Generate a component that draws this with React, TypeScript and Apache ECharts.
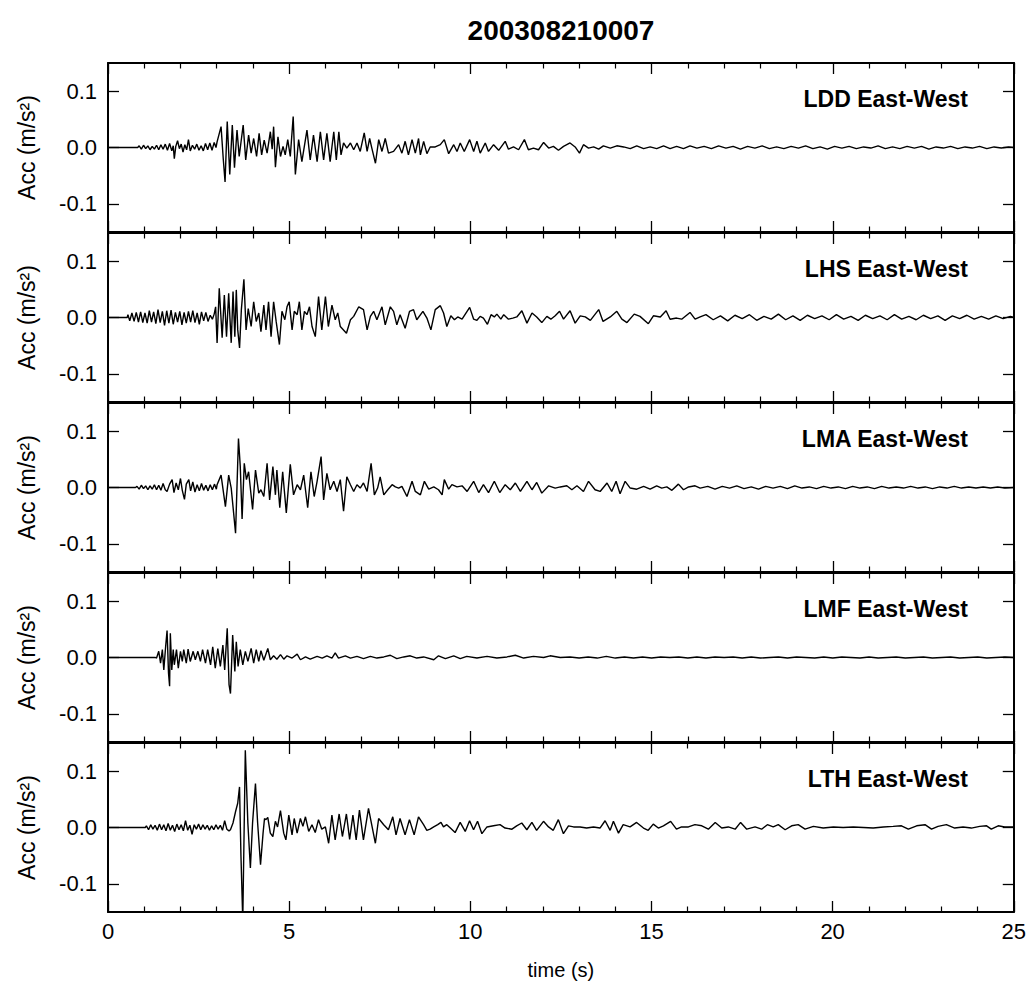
import React, { useEffect, useRef } from "react";
import * as echarts from "echarts";

// time (s), acceleration (10^-3 m/s^2)
const LDD: number[][] = [
  [0,0],[0.82,0],[0.86,3],[0.92,-3],[0.98,4],[1.04,-2],[1.10,3],[1.16,-4],[1.22,2],[1.28,-3],[1.34,4],[1.40,-4],[1.46,5],[1.52,-3],[1.58,6],[1.64,-5],[1.70,7],[1.76,-6],[1.80,3],[1.83,-20],[1.87,2],[1.92,12],[1.97,-2],[2.02,6],[2.07,-8],[2.12,5],[2.17,-4],[2.22,14],[2.27,-6],[2.33,4],[2.39,-3],[2.45,6],[2.51,-5],[2.57,3],[2.63,-6],[2.69,7],[2.75,-4],[2.81,8],[2.87,-5],[2.93,9],[2.98,0],
  [3.01,10],[3.12,37],[3.18,-20],[3.23,-61],[3.29,46],[3.36,-48],[3.43,40],[3.49,-36],[3.56,31],[3.62,-16],[3.73,40],[3.80,-22],[3.88,22],[3.95,-10],[4.02,16],[4.10,-16],[4.17,25],[4.24,-13],[4.31,13],[4.39,-10],[4.48,28],[4.53,-3],[4.57,37],[4.62,-35],[4.69,19],[4.76,-16],[4.83,2],[4.89,-13],[4.96,14],[5.03,-16],[5.11,55],[5.17,-48],[5.26,14],[5.35,-25],[5.49,31],[5.58,-22],[5.67,22],[5.77,-25],[5.86,28],[5.95,-22],[6.04,25],[6.13,-25],[6.23,28],[6.30,-22],[6.37,28],[6.43,-13],[6.50,8],[6.59,-1],[6.69,8],[6.78,-4],[6.87,8],[6.96,-7],[7.07,26],[7.15,-7],[7.22,16],[7.28,-1],[7.38,-28],[7.47,14],[7.56,-7],[7.65,16],[7.74,-10],[7.88,-7],[8.02,5],[8.11,-10],[8.20,11],[8.29,-13],[8.39,14],[8.48,-10],[8.57,16],
  [8.62,-13],[8.71,11],[8.80,-11],[8.89,1],[9.03,1],[9.17,5],[9.28,14],[9.40,-11],[9.54,5],[9.63,-7],[9.72,8],[9.83,-7],[9.98,14],[10.09,-7],[10.18,11],[10.27,-10],[10.41,8],[10.50,-7],[10.64,5],[10.78,-5],[10.96,11],[11.05,-3],[11.19,1],[11.33,-4],[11.49,14],[11.60,-4],[11.74,-1],[11.88,-4],[12.02,9],[12.16,-1],[12.29,2],[12.43,-5],[12.57,2],[12.75,8],[12.89,1],[13.01,-10],[13.12,5],[13.26,-1],[13.40,1],[13.54,-3],[13.67,3],[13.86,-1],[14.04,3],[14.23,1],[14.41,-2],[14.59,3],[14.78,-2],[14.96,1],[15.14,-2],[15.33,3],[15.51,-2],[15.69,2],[15.88,-2],[16.06,3],[16.25,-1],
  [16.45,2],[16.65,-2],[16.85,3],[17.05,-1],[17.25,2],[17.45,-3],[17.65,2],[17.85,-1],[18.05,3],[18.25,-2],[18.45,1],[18.65,-2],[18.85,2],[19.05,-1],[19.25,3],[19.45,-2],[19.65,1],[19.85,-3],[20.05,2],[20.25,-1],[20.45,2],[20.65,-2],[20.85,1],[21.05,-1],[21.25,3],[21.45,-2],[21.65,1],[21.85,-2],[22.05,2],[22.25,-1],[22.45,2],[22.65,-3],[22.85,1],[23.05,-1],[23.25,2],[23.45,-2],[23.65,1],[23.85,-1],[24.05,2],[24.25,-2],[24.45,1],[24.65,-1],[24.85,1],[25,0]
];

const LHS: number[][] = [
  [0,0],[0.53,0],[0.55,5],[0.60,-6],[0.66,8],[0.72,-7],[0.78,9],[0.84,-8],[0.90,10],[0.96,-9],[1.02,8],[1.08,-10],[1.14,12],[1.20,-8],[1.26,10],[1.32,-11],[1.38,14],[1.44,-9],[1.50,11],[1.56,-14],[1.62,12],[1.68,-10],[1.74,13],[1.80,-12],[1.86,9],[1.92,-8],[1.98,11],[2.04,-13],[2.10,9],[2.16,-10],[2.22,11],[2.28,-8],[2.34,12],[2.40,-9],[2.46,8],[2.52,-12],[2.58,10],[2.64,-6],[2.70,9],[2.76,-7],[2.82,4],[2.88,-3],[2.93,6],
  [2.97,19],[3.01,-45],[3.07,52],[3.15,-36],[3.21,40],[3.27,-34],[3.33,43],[3.40,-45],[3.45,46],[3.50,-34],[3.54,49],[3.58,-22],[3.63,-54],[3.68,14],[3.75,68],[3.81,-22],[3.87,16],[3.95,-16],[4.02,28],[4.09,-7],[4.16,8],[4.22,-25],[4.30,22],[4.36,-22],[4.43,28],[4.50,-34],[4.57,28],[4.64,-7],[4.73,-48],[4.80,11],[4.88,-4],[4.94,19],[5.00,28],[5.08,-22],[5.14,11],[5.22,5],[5.28,28],[5.35,-22],[5.42,11],[5.49,5],[5.56,19],[5.63,-16],[5.72,-34],[5.81,37],[5.90,-22],[6.00,37],[6.08,-16],[6.18,22],[6.27,-4],[6.34,8],[6.41,-16],[6.58,-28],[6.69,-4],[6.78,2],[6.92,19],[7.05,14],[7.15,-22],[7.24,2],[7.33,11],[7.42,-4],[7.56,19],[7.65,-13],[7.79,19],[7.88,11],[7.97,-13],[8.06,5],[8.20,-19],[8.32,11],[8.43,14],[8.52,-4],
  [8.69,11],[8.80,-1],[8.91,-22],[9.03,14],[9.17,21],[9.26,8],[9.35,-16],[9.46,3],[9.56,-4],[9.65,1],[9.77,-3],[9.98,18],[10.09,-3],[10.18,-5],[10.27,2],[10.36,-1],[10.47,-12],[10.57,5],[10.66,1],[10.73,6],[10.84,-3],[10.92,5],[11.05,-3],[11.17,-1],[11.28,1],[11.42,12],[11.56,-10],[11.70,8],[11.83,1],[11.97,-9],[12.11,2],[12.22,-3],[12.34,3],[12.46,11],[12.57,-3],[12.75,12],[12.89,-10],[13.03,3],[13.17,1],[13.31,-5],[13.54,14],[13.66,-7],[13.86,1],[14.04,11],[14.18,-3],[14.32,-9],[14.52,6],[14.68,2],[14.91,-11],[15.05,3],[15.24,1],[15.40,12],[15.51,-3],[15.69,-1],[15.83,-3],[16.06,9],[16.20,-3],[16.34,1],
  [16.5,5],[16.7,-4],[16.9,3],[17.1,-6],[17.3,4],[17.5,-2],[17.7,5],[17.9,-5],[18.1,2],[18.3,-3],[18.5,6],[18.7,-4],[18.9,3],[19.1,-5],[19.3,4],[19.5,-2],[19.7,3],[19.9,-4],[20.1,5],[20.3,-3],[20.5,2],[20.7,-5],[20.9,4],[21.1,-2],[21.3,3],[21.5,-4],[21.7,5],[21.9,-3],[22.1,2],[22.3,-4],[22.5,4],[22.7,-2],[22.9,3],[23.1,-5],[23.3,3],[23.5,-2],[23.7,4],[23.9,-3],[24.1,2],[24.3,-3],[24.5,3],[24.7,-2],[24.9,2],[25,0]
];

const LMA: number[][] = [
  [0,0],[0.76,0],[0.80,2],[0.86,-3],[0.92,4],[0.98,-2],[1.04,3],[1.10,-4],[1.16,3],[1.22,-3],[1.28,5],[1.34,-4],[1.40,4],[1.46,-5],[1.52,7],[1.58,-4],[1.63,-7],[1.70,6],[1.77,14],[1.82,-9],[1.88,8],[1.94,-4],[2.00,16],[2.05,-5],[2.11,-21],[2.16,6],[2.23,14],[2.28,-6],[2.34,10],[2.40,-8],[2.46,5],[2.52,-6],[2.58,7],[2.64,-5],[2.70,4],[2.76,-6],[2.82,5],[2.88,-4],[2.94,6],[2.99,-3],
  [3.01,5],[3.12,22],[3.24,-34],[3.33,22],[3.40,-1],[3.52,-81],[3.60,87],[3.65,37],[3.70,-56],[3.76,43],[3.82,14],[3.88,28],[3.99,-39],[4.07,31],[4.16,-10],[4.22,-4],[4.30,-16],[4.39,43],[4.46,-22],[4.55,37],[4.62,-13],[4.66,31],[4.74,-36],[4.82,28],[4.92,-45],[5.03,41],[5.12,-13],[5.22,5],[5.31,-4],[5.40,22],[5.51,-36],[5.60,28],[5.69,-16],[5.77,11],[5.88,55],[5.95,-22],[6.04,25],[6.13,-4],[6.23,11],[6.32,-7],[6.41,14],[6.50,-42],[6.59,19],[6.69,5],[6.78,-7],[6.87,5],[6.96,-1],[7.05,8],[7.15,-7],[7.26,43],[7.35,-13],[7.44,-1],[7.51,19],[7.61,-13],[7.72,-4],[7.84,5],[7.93,1],[8.02,-1],[8.11,2],[8.25,-16],[8.39,11],[8.48,-7],
  [8.62,-13],[8.73,11],[8.85,-3],[8.99,1],[9.12,-4],[9.22,-13],[9.28,14],[9.40,-3],[9.49,5],[9.63,1],[9.77,3],[9.91,-7],[10.09,11],[10.23,-9],[10.36,5],[10.50,-9],[10.66,11],[10.81,-9],[10.96,5],[11.10,-4],[11.24,8],[11.38,-7],[11.56,11],[11.70,-4],[11.83,9],[11.97,-10],[12.16,3],[12.34,-1],[12.48,1],[12.66,3],[12.80,-4],[12.94,3],[13.12,-7],[13.26,11],[13.44,-4],[13.58,-7],[13.77,8],[13.90,-7],[14.02,11],[14.13,-11],[14.27,11],[14.41,-1],[14.59,-3],[14.78,2],[14.96,-3],[15.14,3],[15.28,-1],[15.42,1],[15.56,-5],[15.74,6],[15.88,-4],[16.02,1],[16.20,3],[16.34,-1],
  [16.55,2],[16.75,-3],[16.95,2],[17.15,-1],[17.35,3],[17.55,-2],[17.75,1],[17.95,-3],[18.15,2],[18.35,-1],[18.55,2],[18.75,-2],[18.95,3],[19.15,-1],[19.35,1],[19.55,-2],[19.75,2],[19.95,-1],[20.15,1],[20.35,-2],[20.55,2],[20.75,-1],[20.95,1],[21.15,-2],[21.35,2],[21.55,-1],[21.75,1],[21.95,-1],[22.15,2],[22.35,-1],[22.55,1],[22.75,-2],[22.95,1],[23.15,-1],[23.35,2],[23.55,-1],[23.75,1],[23.95,-1],[24.15,1],[24.35,-1],[24.55,1],[24.75,-1],[25,0]
];

const LMF: number[][] = [
  [0,0],[1.31,0],[1.34,-1],[1.40,11],[1.45,-10],[1.50,14],[1.54,-22],[1.59,19],[1.63,48],[1.67,-28],[1.70,-51],[1.72,43],[1.76,-22],[1.80,14],[1.83,-13],[1.89,14],[1.94,-19],[2.00,11],[2.05,-7],[2.09,14],[2.16,-10],[2.21,15],[2.27,-7],[2.35,11],[2.41,-4],[2.48,11],[2.55,-7],[2.61,14],[2.69,-10],[2.75,14],[2.83,-13],[2.89,19],[2.96,-19],[3.03,16],[3.10,-16],[3.17,22],[3.22,-22],[3.29,52],[3.34,-48],[3.38,-64],[3.44,40],[3.50,-25],[3.54,28],[3.59,-16],[3.65,14],[3.72,-13],[3.79,11],[3.86,-7],[3.95,16],[4.02,-10],[4.09,14],[4.16,-7],[4.22,12],[4.30,-5],[4.41,16],[4.48,-4],[4.57,3],[4.66,-3],[4.76,5],[4.85,-3],[4.94,3],[5.08,-1],[5.22,6],[5.31,-4],[5.45,1],[5.58,-3],[5.77,2],[5.91,-1],[6.04,3],[6.18,-1],[6.27,8],[6.36,-1],[6.55,3],[6.69,-1],[6.87,2],[7.05,-2],[7.24,2],[7.42,-1],[7.61,1],[7.79,4],[7.97,-2],[8.16,1],[8.34,3],[8.52,-1],
  [8.71,1],[8.99,-4],[9.12,3],[9.31,-2],[9.54,3],[9.72,-2],[9.90,2],[10.18,-1],[10.46,2],[10.73,-1],[11.01,1],[11.24,4],[11.47,-1],[11.74,2],[12.02,0],[12.20,3],[12.48,0],
  [12.75,1],[13.0,-1],[13.25,1],[13.5,-1],[13.75,2],[14.0,-1],[14.25,1],[14.5,-1],[14.75,1],[15.0,-1],[15.25,1],[15.5,0],[15.75,1],[16.0,-1],[16.25,1],[16.5,-1],[16.75,1],[17.0,0],[17.25,1],[17.5,-1],[17.75,1],[18.0,-1],[18.25,0],[18.5,1],[18.75,-1],[19.0,1],[19.25,0],[19.5,-1],[19.75,1],[20.0,-1],[20.25,1],[20.5,0],[20.75,-1],[21.0,1],[21.25,-1],[21.5,0],[21.75,1],[22.0,-1],[22.25,0],[22.5,1],[22.75,-1],[23.0,0],[23.25,1],[23.5,-1],[23.75,0],[24.0,1],[24.25,-1],[24.5,0],[24.75,1],[25,0]
];

const LTH: number[][] = [
  [0,0],[1.03,0],[1.06,3],[1.12,-4],[1.18,5],[1.24,-3],[1.30,4],[1.36,-5],[1.42,6],[1.48,-4],[1.54,5],[1.60,-6],[1.66,7],[1.72,-5],[1.78,4],[1.84,-7],[1.90,6],[1.96,-4],[2.02,5],[2.08,-6],[2.14,12],[2.20,-5],[2.26,4],[2.32,-12],[2.38,5],[2.44,-3],[2.50,6],[2.56,-4],[2.62,5],[2.68,-3],[2.74,4],[2.80,-5],[2.86,3],[2.92,-4],[2.98,5],[3.04,-3],[3.10,4],[3.16,-5],[3.22,12],[3.28,-3],[3.34,-6],
  [3.38,-4],[3.45,8],[3.52,28],[3.58,43],[3.63,72],[3.67,-51],[3.72,-165],[3.79,137],[3.86,8],[3.93,-72],[3.99,8],[4.07,78],[4.13,8],[4.21,-66],[4.28,-10],[4.32,16],[4.36,14],[4.41,18],[4.48,-10],[4.55,-16],[4.62,11],[4.68,1],[4.76,30],[4.85,-10],[4.91,-22],[4.99,22],[5.08,-13],[5.14,16],[5.22,-10],[5.31,16],[5.38,2],[5.45,19],[5.54,-7],[5.63,5],[5.72,-9],[5.81,14],[5.90,-3],[6.00,1],[6.09,-28],[6.18,22],[6.27,-22],[6.38,24],[6.47,-16],[6.58,24],[6.67,-21],[6.76,22],[6.85,-22],[6.94,31],[7.05,-22],[7.19,34],[7.38,-28],[7.47,16],[7.61,5],[7.74,-4],[7.86,19],[7.95,-13],[8.06,16],[8.20,-13],[8.32,14],[8.45,-13],[8.57,19],
  [8.71,5],[8.80,-5],[8.89,-3],[8.99,1],[9.10,5],[9.19,9],[9.26,1],[9.35,5],[9.45,-1],[9.58,-9],[9.72,9],[9.86,-7],[9.98,12],[10.09,-4],[10.20,11],[10.32,-11],[10.46,1],[10.64,3],[10.82,5],[10.96,-1],[11.15,-3],[11.28,3],[11.42,8],[11.56,-4],[11.70,9],[11.83,-5],[12.02,11],[12.16,1],[12.29,-5],[12.43,14],[12.57,-11],[12.71,3],[12.85,1],[13.03,1],[13.21,-1],[13.40,1],[13.58,-1],[13.72,12],[13.86,-5],[13.95,11],[14.09,-10],[14.22,5],[14.41,1],[14.59,9],[14.78,-1],[14.91,-5],[15.05,6],[15.19,-1],[15.33,3],[15.53,11],[15.69,-3],[15.83,1],[16.02,1],[16.20,5],
  [16.39,3],[16.57,-3],[16.76,9],[16.94,-1],[17.12,1],[17.31,-3],[17.46,9],[17.63,-3],[17.86,1],[18.04,-3],[18.20,5],[18.36,1],[18.50,5],[18.69,-4],[18.87,3],[19.05,5],[19.24,-3],[19.47,2],[19.74,-1],[20.02,1],[20.29,0],[20.57,1],[20.85,0],[21.12,-1],[21.40,1],[21.67,2],[21.90,3],[22.09,-3],[22.32,3],[22.55,5],[22.73,-3],[22.91,2],[23.14,5],[23.37,-1],[23.60,1],[23.83,-1],[24.06,2],[24.25,3],[24.38,-3],[24.57,3],[24.75,1],[24.98,1],[25,1]
];

const STATIONS = ["LDD East-West", "LHS East-West", "LMA East-West", "LMF East-West", "LTH East-West"];
const TRACES = [LDD, LHS, LMA, LMF, LTH];
const TITLE = "200308210007";
const X_TICKS = [0, 5, 10, 15, 20, 25];
const Y_TICKS = [-0.1, 0, 0.1];

const FONT = '"Liberation Sans", Arial, Helvetica, sans-serif';

export default function App() {
  const ref = useRef<HTMLDivElement>(null);
  useEffect(() => {
    document.body.style.margin = "0";
    if (!ref.current) return;
    const chart = echarts.init(ref.current, undefined, { renderer: "svg" });
    const L = 108, W = 906, T0 = 63, H = 170;
    const grids: any[] = [];
    const xAxes: any[] = [];
    const yAxes: any[] = [];
    const series: any[] = [];
    const graphics: any[] = [];
    const axisLine = { show: true, onZero: false, lineStyle: { color: "#000", width: 2 } };
    for (let i = 0; i < 5; i++) {
      grids.push({ left: L, width: W, top: T0 + H * i, height: H - 1, show: false });
      const xBase = {
        type: "value", gridIndex: i, min: X_TICKS[0], max: X_TICKS[X_TICKS.length - 1], interval: 5,
        axisLine, splitLine: { show: false },
        axisTick: { show: true, inside: true, length: 11, lineStyle: { color: "#000", width: 1.3 } },
        minorTick: { show: true, splitNumber: 5, length: 5.5, lineStyle: { color: "#000", width: 1.2 } },
        minorSplitLine: { show: false },
      };
      xAxes.push({
        ...xBase, position: "bottom",
        axisLabel: { show: i === 4, fontSize: 22, margin: 8, color: "#000", fontFamily: FONT },
        ...(i === 4 ? { name: "time (s)", nameLocation: "middle", nameGap: 48, nameTextStyle: { fontSize: 20, color: "#000", fontFamily: FONT } } : {}),
      });
      xAxes.push({ ...xBase, position: "top", axisLabel: { show: false } });
      const yBase = {
        type: "value", gridIndex: i, min: -0.15, max: 0.15,
        axisLine, splitLine: { show: false },
        axisTick: { show: true, inside: true, length: 11, customValues: Y_TICKS, lineStyle: { color: "#000", width: 1.3 } },
      };
      yAxes.push({
        ...yBase, position: "left",
        axisLabel: { show: true, customValues: Y_TICKS, formatter: (v: number) => v.toFixed(1), fontSize: 22, margin: 11, color: "#000", fontFamily: FONT },
        name: "Acc (m/s²)", nameLocation: "middle", nameRotate: 90, nameGap: 70,
        nameTextStyle: { fontSize: 23, color: "#000", fontFamily: FONT },
      });
      yAxes.push({ ...yBase, position: "right", axisLabel: { show: false } });
      series.push({
        type: "line", xAxisIndex: 2 * i, yAxisIndex: 2 * i, showSymbol: false, symbol: "none",
        clip: true, silent: true,
        lineStyle: { color: "#000", width: 1.4 },
        data: TRACES[i].map((p) => [p[0], p[1] / 1000]),
      });
      graphics.push({
        type: "text", x: 968, y: T0 + H * i + 36,
        style: { text: STATIONS[i], fontSize: 23, fontWeight: "bold", fontFamily: FONT, fill: "#000", align: "right", verticalAlign: "middle" },
      });
    }
    graphics.push({
      type: "text", x: L + W / 2, y: 30,
      style: { text: TITLE, fontSize: 28, fontWeight: "bold", fontFamily: FONT, fill: "#000", align: "center", verticalAlign: "middle" },
    });
    chart.setOption({
      animation: false,
      backgroundColor: "#fff",
      textStyle: { fontFamily: FONT },
      grid: grids,
      xAxis: xAxes,
      yAxis: yAxes,
      series,
      graphic: graphics,
    });
    return () => chart.dispose();
  }, []);
  return <div ref={ref} style={{ width: 1029, height: 989 }} />;
}
